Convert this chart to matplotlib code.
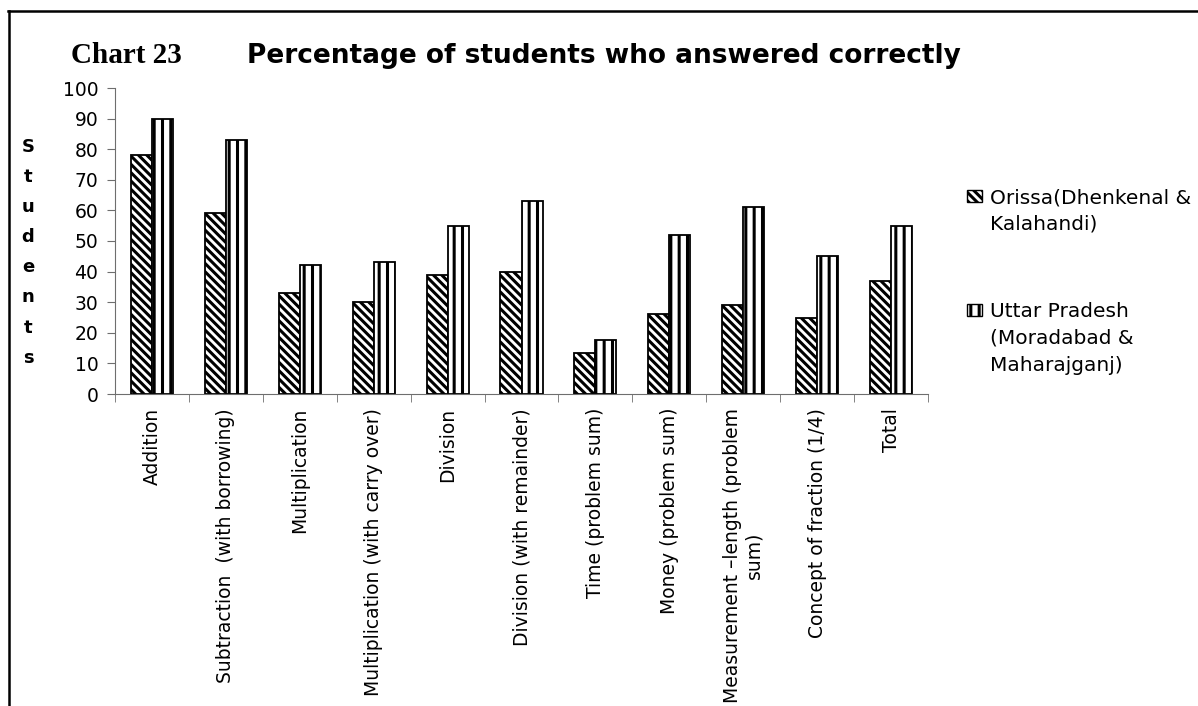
import matplotlib.pyplot as plt
from matplotlib.patches import Rectangle
from matplotlib.lines import Line2D
import numpy as np

topics = ['Addition', 'Subtraction  (with borrowing)', 'Multiplication',
          'Multiplication (with carry over)', 'Division',
          'Division (with remainder)', 'Time (problem sum)',
          'Money (problem sum)', 'Measurement \u2013length (problem\nsum)',
          'Concept of fraction (1/4)', 'Total']
orissa = [78, 59, 33, 30, 39, 40, 13.5, 26, 29, 25, 37]
uttar_pradesh = [90, 83, 42, 43, 55, 63, 17.5, 52, 61, 45, 55]
series_names = ['Orissa(Dhenkenal &\nKalahandi)',
                'Uttar Pradesh\n(Moradabad &\nMaharajganj)']
hatches = ['\\\\\\\\', '||']

W, H = 1198, 706
AXIS_GREY = '#6e6e6e'
plt.rcParams['hatch.linewidth'] = 2.2


def fx(px):
    return px / W


def fy(py):
    return 1 - py / H


fig = plt.figure(figsize=(W / 100, H / 100), dpi=100)
ax = fig.add_axes([fx(115), fy(394), (928 - 115) / W, (394 - 88) / H])

x = np.arange(len(topics))
w = 0.285
ax.bar(x - w / 2, orissa, w, color='white', edgecolor='black',
       hatch=hatches[0], lw=1.3)
ax.bar(x + w / 2, uttar_pradesh, w, color='white', edgecolor='black',
       hatch=hatches[1], lw=1.3)

ax.set_xlim(-0.5, len(topics) - 0.5)
ax.set_ylim(0, 100)
ax.set_yticks(range(0, 101, 10))
ax.set_xticks(x)
ax.set_xticklabels(topics, rotation=90, ha='center', va='top',
                   multialignment='center', fontsize=13.5)
ax.set_xticks(np.arange(-0.5, len(topics)), minor=True)
ax.tick_params(axis='x', which='major', length=0, pad=10)
ax.tick_params(axis='x', which='minor', length=6, color=AXIS_GREY)
ax.tick_params(axis='y', length=6, color=AXIS_GREY, labelsize=13.5, pad=6)
for side in ['top', 'right']:
    ax.spines[side].set_visible(False)
for side in ['left', 'bottom']:
    ax.spines[side].set_color(AXIS_GREY)

# vertical axis title, one letter per row
for i, ch in enumerate('Students'):
    fig.text(fx(28), fy(151.5 + i * 30.2), ch, ha='center', va='baseline',
             fontsize=13, fontweight='bold')

fig.text(fx(71), fy(63), 'Chart 23', family='Liberation Serif',
         fontweight='bold', fontsize=21, va='baseline')
fig.text(fx(247), fy(63), 'Percentage of students who answered correctly',
         fontweight='bold', fontsize=19, va='baseline')

# legend on the right, swatch level with the first line of its label
for name, hatch, top in zip(series_names, hatches, [190, 304]):
    fig.add_artist(Rectangle((fx(967), fy(top + 12)), 15 / W, 12 / H,
                             transform=fig.transFigure, facecolor='white',
                             edgecolor='black', hatch=hatch, lw=1))
    fig.text(fx(990), fy(top - 2), name, fontsize=14.5, va='top',
             linespacing=1.53)

# page frame
fig.add_artist(Line2D([fx(8), 1], [fy(10.5), fy(10.5)], color='black', lw=1.8))
fig.add_artist(Line2D([fx(9), fx(9)], [0, fy(10.5)], color='black', lw=1.8))

fig.savefig('out.png', dpi=100)
